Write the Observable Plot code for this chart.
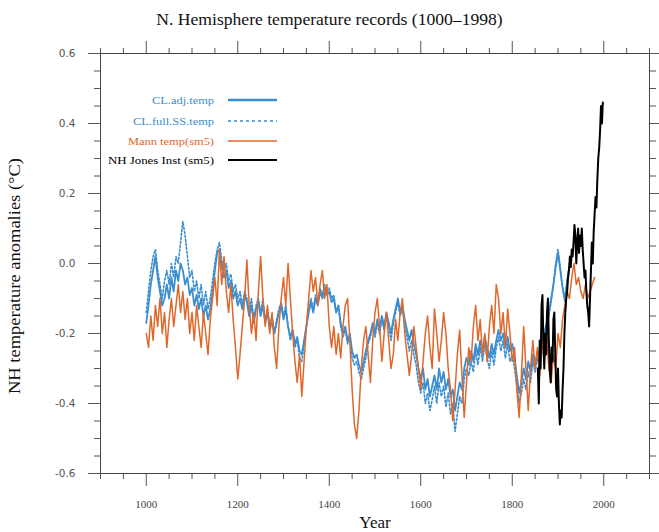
<!DOCTYPE html>
<html><head><meta charset="utf-8">
<script src="https://cdn.jsdelivr.net/npm/d3@7"></script>
<script src="https://cdn.jsdelivr.net/npm/@observablehq/plot@0.6"></script>
<style>
body{margin:0;background:#fff;}
#wrap{position:relative;width:659px;height:532px;overflow:hidden;}
#title{position:absolute;left:0;top:9px;width:659px;text-align:center;font:17.6px "Liberation Serif",serif;color:#111;}
#chart{position:absolute;left:0;top:40px;}
#legend{position:absolute;left:0;top:0;pointer-events:none;}
</style></head><body>
<div id="wrap"><div id="title">N. Hemisphere temperature records (1000–1998)</div><div id="chart"></div><svg id="legend" width="659" height="532"></svg></div>
<script>
// ---- data ----
const seriesNames = ["CL.adj.temp", "CL.full.SS.temp", "Mann temp(sm5)", "NH  Jones Inst (sm5)"];
const seriesColors = ["#3a8ed0", "#3a8ed0", "#e0672a", "#000000"];

const clStart = 1000, clStep = 5;
const clAdj = [-0.17,-0.12,-0.06,-0.02,0.02,-0.04,-0.08,-0.12,-0.10,-0.06,-0.10,-0.04,-0.08,-0.02,-0.05,0.00,-0.02,-0.06,-0.04,-0.09,
-0.07,-0.12,-0.09,-0.13,-0.10,-0.15,-0.12,-0.16,-0.13,-0.08,-0.02,0.03,0.04,-0.01,-0.04,-0.02,-0.07,-0.05,-0.10,-0.08,
-0.12,-0.10,-0.13,-0.09,-0.11,-0.15,-0.12,-0.17,-0.13,-0.11,-0.15,-0.12,-0.17,-0.14,-0.19,-0.16,-0.20,-0.17,-0.14,-0.12,
-0.16,-0.13,-0.18,-0.21,-0.19,-0.23,-0.21,-0.25,-0.26,-0.22,-0.18,-0.14,-0.11,-0.14,-0.10,-0.12,-0.08,-0.10,-0.07,-0.09,
-0.08,-0.11,-0.10,-0.14,-0.12,-0.17,-0.20,-0.18,-0.22,-0.20,-0.25,-0.27,-0.26,-0.29,-0.31,-0.28,-0.25,-0.22,-0.20,-0.17,
-0.20,-0.16,-0.19,-0.15,-0.18,-0.14,-0.17,-0.20,-0.16,-0.13,-0.10,-0.14,-0.12,-0.16,-0.19,-0.22,-0.19,-0.23,-0.26,-0.30,
-0.33,-0.30,-0.36,-0.33,-0.38,-0.35,-0.32,-0.36,-0.30,-0.34,-0.31,-0.36,-0.33,-0.38,-0.36,-0.42,-0.38,-0.34,-0.36,-0.30,
-0.27,-0.29,-0.25,-0.28,-0.23,-0.26,-0.22,-0.25,-0.21,-0.24,-0.27,-0.23,-0.26,-0.22,-0.19,-0.22,-0.20,-0.24,-0.21,-0.25,
-0.23,-0.27,-0.32,-0.37,-0.34,-0.30,-0.33,-0.28,-0.31,-0.26,-0.29,-0.25,-0.28,-0.23,-0.20,-0.17,-0.14,-0.10,-0.06,-0.01,
0.03,-0.02,-0.07,-0.10,-0.05,-0.01];

const clFull = [-0.14,-0.08,-0.02,0.02,0.04,-0.02,-0.06,-0.10,-0.05,-0.02,-0.06,0.00,-0.04,0.02,0.00,0.06,0.12,0.08,0.02,-0.04,
-0.02,-0.08,-0.05,-0.10,-0.06,-0.12,-0.08,-0.13,-0.10,-0.05,0.00,0.04,0.06,0.01,-0.02,0.00,-0.05,-0.03,-0.08,-0.06,
-0.10,-0.08,-0.12,-0.08,-0.10,-0.14,-0.10,-0.16,-0.12,-0.10,-0.14,-0.10,-0.16,-0.13,-0.18,-0.15,-0.20,-0.16,-0.13,-0.11,
-0.15,-0.12,-0.18,-0.22,-0.19,-0.24,-0.22,-0.27,-0.28,-0.23,-0.18,-0.13,-0.10,-0.13,-0.09,-0.11,-0.07,-0.09,-0.06,-0.08,
-0.07,-0.10,-0.09,-0.14,-0.12,-0.18,-0.21,-0.19,-0.23,-0.21,-0.27,-0.29,-0.28,-0.31,-0.33,-0.30,-0.27,-0.23,-0.21,-0.18,
-0.21,-0.17,-0.20,-0.16,-0.19,-0.15,-0.18,-0.22,-0.17,-0.14,-0.11,-0.15,-0.13,-0.18,-0.21,-0.25,-0.22,-0.26,-0.29,-0.34,
-0.37,-0.34,-0.40,-0.37,-0.42,-0.39,-0.35,-0.40,-0.34,-0.38,-0.35,-0.41,-0.37,-0.43,-0.40,-0.48,-0.43,-0.38,-0.40,-0.33,
-0.30,-0.32,-0.28,-0.31,-0.25,-0.29,-0.24,-0.28,-0.23,-0.27,-0.30,-0.25,-0.29,-0.24,-0.21,-0.25,-0.22,-0.27,-0.23,-0.28,
-0.26,-0.30,-0.35,-0.40,-0.37,-0.33,-0.36,-0.31,-0.34,-0.28,-0.31,-0.27,-0.30,-0.25,-0.22,-0.18,-0.15,-0.11,-0.06,0.00,
0.04,-0.01,-0.07,-0.11,-0.05,0.00];

const mannStart = 1000, mannStep = 5;
const mann = [-0.20,-0.24,-0.15,-0.22,-0.12,-0.18,-0.10,-0.20,-0.14,-0.24,-0.16,-0.10,-0.18,-0.12,-0.06,-0.14,-0.08,-0.16,-0.10,-0.20,
-0.14,-0.22,-0.12,-0.18,-0.24,-0.14,-0.20,-0.26,-0.16,-0.10,-0.04,-0.12,0.04,-0.06,0.02,-0.08,-0.14,-0.06,-0.16,-0.24,
-0.33,-0.26,-0.18,-0.10,0.01,-0.12,-0.20,-0.14,-0.22,-0.08,0.02,-0.10,-0.18,-0.12,-0.20,-0.14,-0.24,-0.30,-0.18,-0.10,
-0.04,-0.12,0.00,-0.10,-0.20,-0.28,-0.34,-0.26,-0.38,-0.28,-0.18,-0.10,-0.02,-0.08,-0.04,-0.12,-0.06,-0.02,-0.10,-0.06,
-0.18,-0.24,-0.18,-0.26,-0.20,-0.27,-0.18,-0.12,-0.10,-0.22,-0.36,-0.46,-0.50,-0.42,-0.30,-0.22,-0.18,-0.26,-0.34,-0.22,
-0.14,-0.10,-0.18,-0.28,-0.20,-0.14,-0.22,-0.30,-0.26,-0.16,-0.22,-0.14,-0.10,-0.20,-0.26,-0.32,-0.26,-0.18,-0.24,-0.30,
-0.36,-0.28,-0.20,-0.15,-0.24,-0.30,-0.13,-0.20,-0.28,-0.22,-0.14,-0.20,-0.30,-0.36,-0.45,-0.36,-0.26,-0.19,-0.32,-0.44,
-0.34,-0.24,-0.28,-0.18,-0.12,-0.22,-0.16,-0.26,-0.20,-0.28,-0.18,-0.12,-0.20,-0.06,-0.10,-0.20,-0.14,-0.24,-0.13,-0.20,
-0.28,-0.24,-0.36,-0.44,-0.32,-0.18,-0.30,-0.42,-0.30,-0.22,-0.30,-0.24,-0.32,-0.22,-0.28,-0.20,-0.30,-0.34,-0.26,-0.30,
-0.20,-0.24,-0.16,-0.12,-0.08,-0.10,-0.04,0.00,-0.06,-0.04,-0.08,-0.10,-0.06,-0.10,-0.08,-0.06,-0.04];

const jonesStart = 1856, jonesStep = 2;
const jones = [-0.30,-0.40,-0.22,-0.30,-0.12,-0.09,-0.22,-0.30,-0.20,-0.26,-0.14,-0.10,-0.22,-0.30,-0.34,-0.24,-0.28,-0.16,-0.14,-0.26,
-0.36,-0.38,-0.30,-0.40,-0.46,-0.42,-0.44,-0.36,-0.30,-0.20,-0.14,-0.10,-0.08,-0.04,-0.02,0.02,-0.01,0.04,0.02,0.06,
0.11,0.08,0.00,0.06,0.10,0.03,0.08,0.05,0.10,0.04,0.00,-0.04,-0.02,-0.08,-0.12,-0.14,-0.18,-0.10,-0.02,0.06,
0.00,0.09,0.14,0.19,0.16,0.24,0.30,0.33,0.38,0.45,0.40,0.46];

const xMajor = [1000, 1200, 1400, 1600, 1800, 2000];
const yMajor = [-0.6, -0.4, -0.2, 0.0, 0.2, 0.4, 0.6];
const xTitle = "Year";
const yTitle = "NH temperature anomalies (°C)";

// ---- table ----
const toRows = (vals, start, step, name) => vals.map((v, i) => ({year: start + i * step, value: v, series: name}));
const rowsAdj = toRows(clAdj, clStart, clStep, seriesNames[0]);
const rowsFull = toRows(clFull, clStart, clStep, seriesNames[1]);
const rowsMann = toRows(mann, mannStart, mannStep, seriesNames[2]);
const rowsJones = toRows(jones, jonesStart, jonesStep, seriesNames[3]);

const xMinor = d3.range(900, 2101, 50).filter(d => !xMajor.includes(d));
const yMinor = d3.range(-12, 13).map(d => d * 0.05).filter(d => !yMajor.some(m => Math.abs(m - d) < 1e-9));

const serif = "'Liberation Serif', 'Times New Roman', serif";
const sans = "'DejaVu Sans', sans-serif";
const tickCol = "#555";

const chart = Plot.plot({
  width: 659, height: 492,
  marginTop: 13, marginBottom: 59, marginLeft: 100, marginRight: 10,
  x: {domain: [900, 2100]},
  y: {domain: [-0.6, 0.6]},
  style: {background: "transparent", overflow: "visible"},
  marks: [
    Plot.axisX({ticks: xMajor, tickSize: 13, tickPadding: 14, tickFormat: d => String(d), fontFamily: serif, fontSize: 11, fill: "#444", stroke: tickCol, label: null}),
    Plot.axisX({ticks: xMinor, tickSize: 6, text: null, stroke: tickCol, label: null}),
    Plot.axisX({anchor: "top", ticks: xMajor, tickSize: 13, text: null, stroke: tickCol, label: null}),
    Plot.axisX({anchor: "top", ticks: xMinor, tickSize: 6, text: null, stroke: tickCol, label: null}),
    Plot.axisY({ticks: yMajor, tickSize: 12, tickPadding: 13, tickFormat: d => d.toFixed(1), fontFamily: sans, fontSize: 10.5, fill: "#555", stroke: tickCol, label: null}),
    Plot.axisY({ticks: yMinor, tickSize: 6, text: null, stroke: tickCol, label: null}),
    Plot.axisY({anchor: "right", ticks: yMajor, tickSize: 12, text: null, stroke: tickCol, label: null}),
    Plot.axisY({anchor: "right", ticks: yMinor, tickSize: 6, text: null, stroke: tickCol, label: null}),
    Plot.frame({stroke: "#444", strokeWidth: 1}),
    Plot.lineY(rowsFull, {x: "year", y: "value", stroke: seriesColors[1], strokeWidth: 1.6, strokeDasharray: "2,2"}),
    Plot.lineY(rowsAdj, {x: "year", y: "value", stroke: seriesColors[0], strokeWidth: 1.8}),
    Plot.lineY(rowsMann, {x: "year", y: "value", stroke: seriesColors[2], strokeWidth: 1.5}),
    Plot.lineY(rowsJones, {x: "year", y: "value", stroke: seriesColors[3], strokeWidth: 2}),
    Plot.text([xTitle], {frameAnchor: "bottom", dy: 54, fontFamily: serif, fontSize: 17, fill: "#111"})
  ]
});
document.getElementById("chart").appendChild(chart);

// ---- overlay: y-axis title and legend ----
const leg = d3.select("#legend");
leg.append("text")
  .attr("transform", "translate(20,276) rotate(-90)")
  .attr("text-anchor", "middle").attr("font-family", serif).attr("font-size", 16)
  .attr("textLength", 236).attr("lengthAdjust", "spacingAndGlyphs")
  .attr("fill", "#111").text(yTitle);

const legendY = [100, 121, 141, 160];
const textW = [62, 81, 86, 106];
const dashes = [null, "3,3", null, null];
const widths = [2.6, 1.6, 1.4, 2.2];
seriesNames.forEach((name, i) => {
  leg.append("text").attr("x", 214).attr("y", legendY[i] + 3.5)
    .attr("text-anchor", "end").attr("font-family", serif).attr("font-size", 10)
    .attr("textLength", textW[i]).attr("lengthAdjust", "spacingAndGlyphs")
    .attr("fill", seriesColors[i]).text(name);
  leg.append("line").attr("x1", 228).attr("x2", 277).attr("y1", legendY[i]).attr("y2", legendY[i])
    .attr("stroke", seriesColors[i]).attr("stroke-width", widths[i])
    .attr("stroke-dasharray", dashes[i]);
});
</script>
</body></html>
